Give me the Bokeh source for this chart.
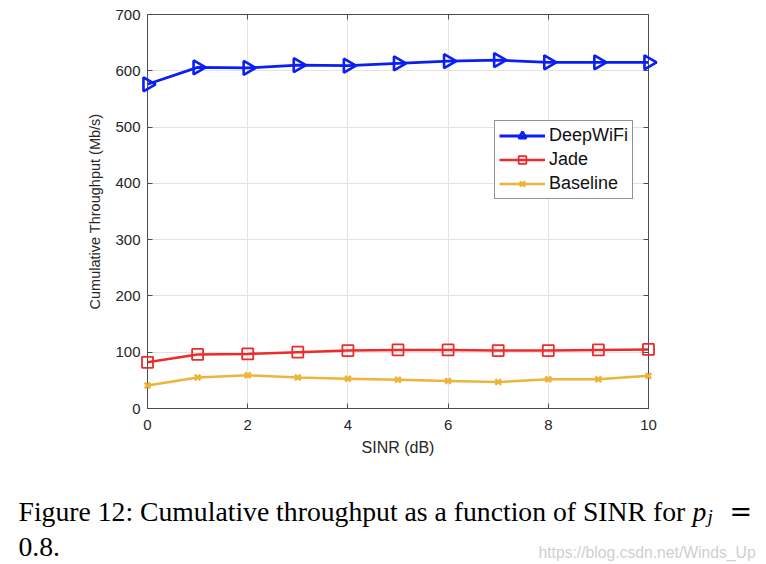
import math
from bokeh.plotting import figure
from bokeh.layouts import column
from bokeh.models import (Legend, LegendItem, LinearAxis, FixedTicker, Range1d)
from bokeh.core.properties import value
from bokeh.embed import file_html
from bokeh.resources import INLINE

# ---- data ----
sinr = [0, 1, 2, 3, 4, 5, 6, 7, 8, 9, 10]
deepwifi = [576, 606, 605, 610, 609, 613, 617, 619, 615, 615, 615]
jade = [82, 96, 97, 100, 103, 104, 104, 103, 103, 104, 105]
baseline = [41, 55, 59, 55, 53, 51, 49, 47, 52, 52, 58]
x_ticks = [0, 2, 4, 6, 8, 10]
y_ticks = [0, 100, 200, 300, 400, 500, 600, 700]
series_names = ["DeepWiFi", "Jade", "Baseline"]

BLUE = "#0a1ef5"
RED = "#ee2b2b"
YEL = "#ebb53a"
AX = "#4d4d4d"
SANS = "Liberation Sans"
SERIF = "Liberation Serif"

W, H = 764, 462
p = figure(width=W, height=H, output_backend="svg", toolbar_location=None,
           x_range=Range1d(0, 10), y_range=Range1d(0, 700),
           min_border_left=147, min_border_right=W - 648,
           min_border_top=14, min_border_bottom=H - 408)
p.frame_align = False
p.background_fill_color = "white"
p.border_fill_color = "white"
p.outline_line_color = AX
p.outline_line_width = 1

for ax in (p.xaxis[0], p.yaxis[0]):
    ax.major_tick_in = 5
    ax.major_tick_out = 0
    ax.minor_tick_line_color = None
    ax.axis_line_color = AX
    ax.major_tick_line_color = AX
    ax.major_label_text_font = SANS
    ax.major_label_text_font_size = "15px"
    ax.major_label_text_color = "#262626"
    ax.axis_label_text_font = SANS
    ax.axis_label_text_font_style = "normal"
    ax.axis_label_text_color = "#262626"

p.xaxis[0].ticker = FixedTicker(ticks=x_ticks)
p.yaxis[0].ticker = FixedTicker(ticks=y_ticks)
p.xaxis[0].axis_label = "SINR (dB)"
p.yaxis[0].axis_label = "Cumulative Throughput (Mb/s)"
p.xaxis[0].axis_label_text_font_size = "16px"
p.yaxis[0].axis_label_text_font_size = "14.5px"
p.xaxis[0].major_label_standoff = 11
p.xaxis[0].axis_label_standoff = 6
p.yaxis[0].major_label_standoff = 7
p.yaxis[0].axis_label_standoff = 9

top = LinearAxis(ticker=FixedTicker(ticks=x_ticks), major_label_text_font_size="0px",
                 major_tick_in=5, major_tick_out=0, minor_tick_line_color=None,
                 axis_line_color=AX, major_tick_line_color=AX, major_label_standoff=0)
right = LinearAxis(ticker=FixedTicker(ticks=y_ticks), major_label_text_font_size="0px",
                   major_tick_in=5, major_tick_out=0, minor_tick_line_color=None,
                   axis_line_color=AX, major_tick_line_color=AX, major_label_standoff=0)
p.add_layout(top, "above")
p.add_layout(right, "right")

p.xgrid.ticker = FixedTicker(ticks=x_ticks)
p.ygrid.ticker = FixedTicker(ticks=y_ticks)
p.grid.grid_line_color = "#e3e3e3"
p.grid.grid_line_width = 1

l1 = p.line(sinr, deepwifi, line_color=BLUE, line_width=2.8)
m1 = p.scatter(sinr, deepwifi, marker="triangle", angle=-math.pi / 2, size=14,
               line_color=BLUE, line_width=2.6, fill_alpha=0, level="annotation")
l2 = p.line(sinr, jade, line_color=RED, line_width=2.5)
m2 = p.scatter(sinr, jade, marker="square", size=11, line_color=RED, line_width=1.8,
               fill_alpha=0, level="annotation")
l3 = p.line(sinr, baseline, line_color=YEL, line_width=2.5)
m3 = p.scatter(sinr, baseline, marker="x", size=8, line_color=YEL, line_width=2.5,
               level="annotation")

legend = Legend(items=[LegendItem(label=series_names[0], renderers=[l1, m1]),
                       LegendItem(label=series_names[1], renderers=[l2, m2]),
                       LegendItem(label=series_names[2], renderers=[l3, m3])],
                location=(347, 209))
legend.label_text_font = SANS
legend.label_text_font_size = "18px"
legend.label_text_color = "#111111"
legend.glyph_width = 46
legend.glyph_height = 19
legend.label_height = 19
legend.label_standoff = 4
legend.spacing = 3
legend.padding = 4
legend.margin = 0
legend.border_line_color = "#262626"
legend.border_line_width = 1
legend.background_fill_alpha = 1
p.add_layout(legend, "center")

# ---- caption panel (coordinates are page pixels) ----
CH = 100
c = figure(width=W, height=CH, output_backend="svg", toolbar_location=None,
           x_range=Range1d(0, W), y_range=Range1d(H + CH, H),
           x_axis_type=None, y_axis_type=None, min_border=0)
c.frame_align = False
c.grid.visible = False
c.outline_line_color = None
c.background_fill_color = "white"
c.border_fill_color = "white"

def cap(x, y, text, size, style="normal", color="black", font=SERIF):
    c.text(x=[x], y=[y], text=[text], text_font=value(font), text_font_size=size,
           text_font_style=style, text_color=color,
           text_baseline="alphabetic", text_align="left")

cap(18, 511, "Figure 12: Cumulative throughput as a function of SINR for", "27.7px")
cap(692, 511, "p", "27.7px", style="italic")
cap(707, 516, "j", "19px", style="italic")
cap(729, 511, "=", "27px", font="DejaVu Serif")
cap(18, 546, "0.8.", "27.7px")
cap(538, 552, "https://blog.csdn.net/Winds_Up", "15.7px", color="#cfcfcf", font=SANS)

open("out.html", "w").write(file_html(column(p, c, spacing=0), INLINE))
